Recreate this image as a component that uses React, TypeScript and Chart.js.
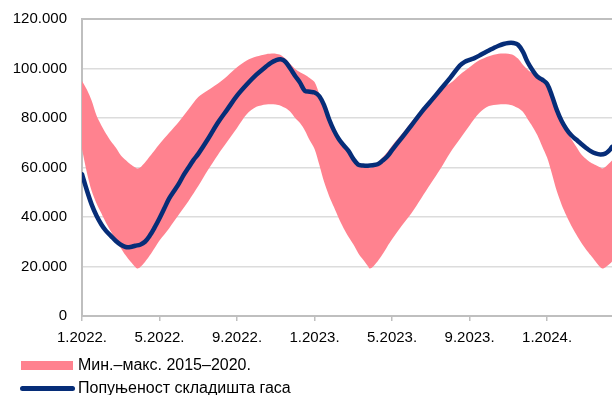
import React, { useEffect, useRef } from 'react';
import { Chart, registerables } from 'chart.js';

Chart.register(...registerables);

// X axis: months counted from 1 January 2022
const xTickMonths = [0, 4, 8, 12, 16, 20, 24];
const xTickLabels = ['1.2022.', '5.2022.', '9.2022.', '1.2023.', '5.2023.', '9.2023.', '1.2024.'];
const xMax = 27.35;

const yTicks = [0, 20000, 40000, 60000, 80000, 100000, 120000];
const yTickLabels = ['0', '20.000', '40.000', '60.000', '80.000', '100.000', '120.000'];

const seriesLabels = ['Мин.–макс. 2015–2020.', 'Попуњеност складишта гаса'];

// Min–max band 2015–2020
const bandMonths = [
  0, 0.25, 0.5, 0.75, 1, 1.25, 1.5, 1.75, 2, 2.25, 2.5, 2.75, 2.85, 3, 3.25, 3.5, 3.75, 4, 4.5, 5, 5.5, 6, 6.5, 7, 7.5, 8, 8.5, 9, 9.5, 10, 10.25, 10.5, 10.75, 11, 11.25, 11.5, 11.75,
  12, 12.25, 12.5, 12.75, 13, 13.25, 13.5, 13.75, 14, 14.25, 14.5, 14.75, 14.85, 15, 15.25, 15.5, 15.75, 16, 16.5, 17, 17.5, 18, 18.5, 19, 19.5, 20, 20.5, 21, 21.5, 22, 22.25, 22.5, 22.75, 23, 23.25, 23.5, 23.75,
  24, 24.25, 24.5, 24.75, 25, 25.25, 25.5, 25.75, 26, 26.25, 26.5, 26.75, 26.85, 27, 27.25, 27.5,
];
const bandMax = [
  95000, 91500, 87000, 81000, 77000, 73500, 70500, 68000, 65000, 63000, 61300, 60000, 59600, 60000, 62000, 64500, 67000, 69500, 74000, 78500, 83500, 88500, 91200, 93800, 97000, 100500, 103200, 104800, 105800, 106000, 105500, 104000, 101800, 99800, 98500, 97500, 96200,
  94500, 89500, 84000, 79000, 75000, 71500, 69000, 66500, 63500, 61800, 60800, 60000, 59700, 60200, 61800, 64000, 66200, 68800, 73500, 78500, 83000, 88000, 91500, 94000, 97500, 100500, 103300, 105000, 106000, 106000, 105500, 104000, 101500, 99500, 98000, 96500, 95000,
  93500, 88500, 83000, 79000, 75000, 71500, 68500, 65500, 63500, 62000, 61000, 60000, 59600, 60200, 62000, 64000,
];
const bandMin = [
  67500, 58000, 50500, 45500, 41500, 37500, 34000, 30500, 27500, 24500, 22000, 19800, 19200, 19700, 21800, 24500, 27500, 30500, 35500, 41000, 46500, 52500, 59000, 65000, 70500, 76000, 81500, 84500, 85500, 85500, 85000, 84000, 82500, 80000, 78000, 75000, 71000,
  67500, 61000, 54000, 48500, 44000, 39500, 35500, 32000, 29000, 25500, 22800, 20200, 19200, 19800, 22000, 24800, 28000, 31000, 36500, 41500, 47500, 53500, 59500, 66000, 71500, 77000, 82000, 84800, 85500, 85500, 85000, 84000, 82500, 79500, 76500, 73000, 68500,
  64000, 57500, 50500, 45000, 40500, 36500, 33000, 29800, 27000, 24500, 22000, 19700, 19200, 19600, 21200, 23500,
];

// Gas storage fill
const storageMonths = [
  0, 0.25, 0.5, 0.75, 1, 1.25, 1.5, 1.75, 2, 2.25, 2.5, 2.75, 3, 3.25, 3.5, 3.75, 4, 4.25, 4.5, 4.75, 5, 5.25, 5.5, 5.75, 6, 6.5, 7, 7.5, 8, 8.5, 9, 9.5, 9.75, 10, 10.25, 10.5, 10.75, 11, 11.25, 11.5, 11.75,
  12, 12.25, 12.5, 12.75, 13, 13.25, 13.5, 13.75, 14, 14.25, 14.5, 14.75, 15, 15.25, 15.5, 15.75, 16, 16.5, 17, 17.5, 18, 18.5, 19, 19.5, 19.75, 20, 20.25, 20.5, 20.75, 21, 21.25, 21.5, 21.75, 22, 22.25, 22.5, 22.75, 23, 23.25, 23.5, 23.75,
  24, 24.25, 24.5, 24.75, 25, 25.25, 25.5, 25.75, 26, 26.25, 26.5, 26.75, 27, 27.2, 27.35,
];
const storageValues = [
  57300, 50800, 45000, 40500, 37000, 34300, 32300, 30300, 28800, 27900, 27900, 28400, 28800, 30000, 32500, 35800, 39500, 43500, 47500, 50500, 53500, 57000, 60000, 63000, 65500, 71500, 78000, 83500, 89000, 93500, 97500, 100800, 102300, 103300, 103700, 102700, 100000, 97000, 94300, 91000, 90600,
  90300, 88800, 85000, 79500, 75000, 71500, 69000, 66700, 63500, 61200, 60800, 60700, 60900, 61300, 62700, 64400, 67000, 72000, 77000, 82200, 86800, 91500, 96200, 101200, 102700, 103500, 104200, 105200, 106300, 107300, 108300, 109200, 109900, 110300, 110300, 109600, 106800, 102500, 99300, 96700, 95500,
  93800, 89000, 83300, 78800, 75500, 73000, 71300, 69600, 68000, 66600, 65700, 65300, 65600, 66800, 68300,
];

const PINK = '#FF828F';
const BLUE = '#062D78';
const GRID = '#DCDCDC';
const AXIS = '#BFBFBF';
const FONT = "'Liberation Sans', Arial, sans-serif";

export default function App() {
  const ref = useRef<HTMLCanvasElement | null>(null);

  useEffect(() => {
    if (!ref.current) return;
    const pts = (xs: number[], ys: number[]) => xs.map((x, i) => ({ x, y: ys[i] }));
    const chart = new Chart(ref.current, {
      type: 'line',
      data: {
        datasets: [
          {
            label: seriesLabels[1],
            data: pts(storageMonths, storageValues),
            borderColor: BLUE,
            borderWidth: 4.5,
            borderCapStyle: 'round',
            borderJoinStyle: 'round',
            pointRadius: 0,
            tension: 0.35,
            fill: false,
            order: 0,
          },
          {
            label: seriesLabels[0],
            data: pts(bandMonths, bandMax),
            borderWidth: 0,
            borderColor: 'rgba(0,0,0,0)',
            backgroundColor: PINK,
            pointRadius: 0,
            tension: 0.3,
            fill: '+1',
            order: 1,
          },
          {
            label: 'min',
            data: pts(bandMonths, bandMin),
            borderWidth: 0,
            borderColor: 'rgba(0,0,0,0)',
            pointRadius: 0,
            tension: 0.3,
            fill: false,
            order: 2,
          },
        ],
      },
      options: {
        animation: false,
        responsive: false,
        devicePixelRatio: 1,
        layout: { padding: { left: 0, right: 0, top: 19, bottom: 51 } },
        plugins: { legend: { display: false }, tooltip: { enabled: false } },
        scales: {
          x: {
            type: 'linear',
            min: 0,
            max: xMax,
            afterBuildTicks: (s: any) => {
              s.ticks = xTickMonths.map((v) => ({ value: v }));
            },
            afterFit: (s: any) => {
              s.height = 28;
              s.paddingLeft = 0;
              s.paddingRight = 0;
            },
            ticks: {
              autoSkip: false,
              maxRotation: 0,
              padding: 8,
              color: '#000',
              font: { family: FONT, size: 15 },
              callback: (v: any) => {
                const i = xTickMonths.indexOf(Number(v));
                return i >= 0 ? xTickLabels[i] : '';
              },
            },
            grid: { drawOnChartArea: false, drawTicks: true, tickLength: 5, color: AXIS, lineWidth: 1.5 },
            border: { color: AXIS, width: 2 },
          },
          y: {
            min: 0,
            max: 120000,
            afterBuildTicks: (s: any) => {
              s.ticks = yTicks.map((v) => ({ value: v }));
            },
            afterFit: (s: any) => {
              s.width = 82;
              s.paddingTop = 0;
              s.paddingBottom = 0;
            },
            ticks: {
              padding: 15,
              color: '#000',
              font: { family: FONT, size: 15 },
              callback: (v: any) => {
                const i = yTicks.indexOf(Number(v));
                return i >= 0 ? yTickLabels[i] : '';
              },
            },
            grid: {
              drawTicks: false,
              color: (ctx: any) => (ctx.tick && ctx.tick.value === 120000 ? AXIS : GRID),
              lineWidth: (ctx: any) => (ctx.tick && ctx.tick.value === 120000 ? 2 : 1.5),
            },
            border: { color: AXIS, width: 2 },
          },
        },
      },
    } as any);
    return () => chart.destroy();
  }, []);

  const textStyle: React.CSSProperties = {
    position: 'absolute',
    left: 78,
    fontFamily: FONT,
    fontSize: 16,
    lineHeight: '18px',
    color: '#000',
    whiteSpace: 'nowrap',
  };

  return (
    <div style={{ position: 'absolute', left: 0, top: 0, width: 612, height: 395, background: '#fff', overflow: 'hidden' }}>
      <canvas ref={ref} width={612} height={395} style={{ position: 'absolute', left: 0, top: 0, width: 612, height: 395 }} />
      <div style={{ position: 'absolute', left: 21, top: 361, width: 52, height: 9, background: PINK }} />
      <div style={{ ...textStyle, top: 356 }}>{seriesLabels[0]}</div>
      <div style={{ position: 'absolute', left: 20, top: 385.5, width: 55, height: 5, borderRadius: 3, background: BLUE }} />
      <div style={{ ...textStyle, top: 379 }}>{seriesLabels[1]}</div>
    </div>
  );
}
